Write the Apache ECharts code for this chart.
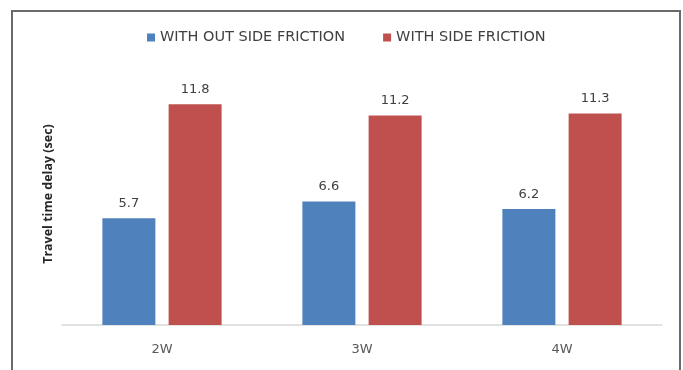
<!DOCTYPE html>
<html>
<head>
<meta charset="utf-8">
<script src="https://cdn.jsdelivr.net/npm/echarts@6/dist/echarts.min.js"></script>
<style>
  html, body { margin: 0; padding: 0; background: #fff; }
  #chart { width: 683px; height: 370px; }
</style>
</head>
<body>
<div id="chart"></div>
<script>
// Travel time delay by road type
const categories = ['2W', '3W', '4W'];
const withoutSideFriction = [5.7, 6.6, 6.2];
const withSideFriction = [11.8, 11.2, 11.3];
const seriesNames = ['WITH OUT SIDE FRICTION', 'WITH SIDE FRICTION'];
const axisTitle = 'Travel time delay (sec)';

const font = '"DejaVu Sans", sans-serif';
const chart = echarts.init(document.getElementById('chart'));

const labelStyle = {
  show: true,
  position: 'top',
  distance: 8,
  color: '#404040',
  fontSize: 13,
  fontFamily: font
};

chart.setOption({
  animation: false,
  backgroundColor: '#fff',
  // open frame: left, top and right edges (bottom edge lies below the page)
  graphic: [{
    type: 'polyline',
    shape: { points: [[12, 420], [12, 11], [680, 11], [680, 420]] },
    style: { fill: 'none', stroke: '#6a6a6a', lineWidth: 2 },
    silent: true,
    z: 100
  }],
  legend: {
    top: 25,
    left: 142,
    itemWidth: 8,
    itemHeight: 8,
    itemGap: 38,
    icon: 'rect',
    textStyle: { color: '#404040', fontSize: 14.5, fontFamily: font },
    data: seriesNames
  },
  grid: { left: 62, right: 21, top: 63, bottom: 45 },
  xAxis: {
    type: 'category',
    data: categories,
    axisLine: { lineStyle: { color: '#d9d9d9', width: 1.5 } },
    axisTick: { show: false },
    axisLabel: { color: '#595959', fontSize: 13, fontFamily: font, margin: 18 }
  },
  yAxis: {
    type: 'value',
    min: 0,
    max: 14,
    name: axisTitle,
    nameLocation: 'middle',
    nameGap: 7,
    nameTextStyle: { color: '#262626', fontSize: 12.5, fontWeight: 'bold', fontFamily: '"Open Sans", sans-serif' },
    axisLine: { show: false },
    axisTick: { show: false },
    axisLabel: { show: false },
    splitLine: { show: false }
  },
  series: [
    {
      name: seriesNames[0],
      type: 'bar',
      data: withoutSideFriction,
      barWidth: 53,
      barGap: '25%',
      itemStyle: { color: '#4f81bd' },
      label: labelStyle
    },
    {
      name: seriesNames[1],
      type: 'bar',
      data: withSideFriction,
      barWidth: 53,
      barGap: '25%',
      itemStyle: { color: '#c0504d' },
      label: labelStyle
    }
  ]
});
</script>
</body>
</html>
